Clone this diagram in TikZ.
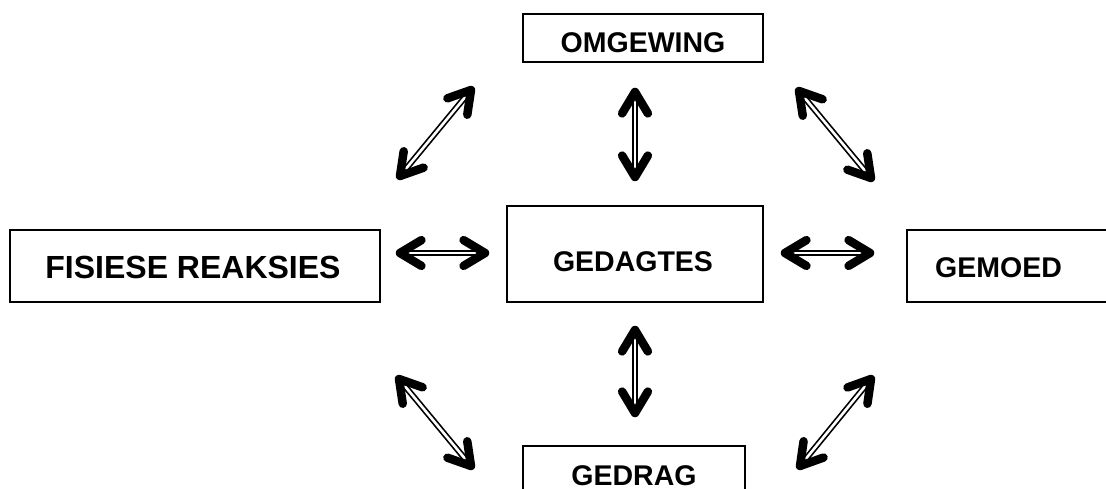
\documentclass[tikz,border=0pt]{standalone}
\usepackage{fontspec}
\setmainfont{Liberation Sans}
\usetikzlibrary{calc}
\tikzset{
  box/.style={draw, line width=2pt, inner sep=0pt, outer sep=0pt, anchor=north west},
  lbl/.style={inner sep=0pt, font=\bfseries\fontsize{28.5}{30}\selectfont},
  biglbl/.style={inner sep=0pt, font=\bfseries\fontsize{32}{34}\selectfont},
  shaft/.style={draw, line width=1.7pt, double=white, double distance=2.6pt},
  arrhead/.style={draw, line width=8.5pt, line cap=round, line join=round}
}
\newcommand{\dblarr}[2]{%
  \draw[shaft] (#1) -- (#2);
  \draw[arrhead] ($(#1)!25pt!31:(#2)$) -- (#1) -- ($(#1)!25pt!-31:(#2)$);
  \draw[arrhead] ($(#2)!25pt!31:(#1)$) -- (#2) -- ($(#2)!25pt!-31:(#1)$);
}
\begin{document}
\begin{tikzpicture}[x=1pt,y=-1pt]
\useasboundingbox (0,0) rectangle (1106,489);
\clip (0,0) rectangle (1106,489);
\fill[white] (0,0) rectangle (1106,489);
% boxes
\node[box, minimum width=370pt, minimum height=72pt] (fis) at (10,230) {};
\node[box, minimum width=256pt, minimum height=96pt] (ged) at (507,206) {};
\node[box, minimum width=223pt, minimum height=72pt] (gem) at (907,230) {};
\node[box, minimum width=240pt, minimum height=48pt] (omg) at (523,14) {};
\node[box, minimum width=222pt, minimum height=70pt] (gdr) at (523,446) {};
% labels
\node[biglbl, anchor=base] (tfis) at (193,278) {FISIESE REAKSIES};
\node[lbl, anchor=base] (tged) at (633,272) {GEDAGTES};
\node[lbl, anchor=base west] (tgem) at (935,277) {GEMOED};
\node[lbl, anchor=base] (tomg) at (643,53) {OMGEWING};
\node[lbl, anchor=base] (tgdr) at (634,485) {GEDRAG};
% arrow end points
\coordinate (l1) at (400,253); \coordinate (l2) at (485,253);
\coordinate (r1) at (785,253); \coordinate (r2) at (870,253);
\coordinate (u1) at (635,92);  \coordinate (u2) at (635,177);
\coordinate (d1) at (635,330); \coordinate (d2) at (635,413);
\coordinate (tl1) at (471,90); \coordinate (tl2) at (400,176);
\coordinate (tr1) at (799,91); \coordinate (tr2) at (871,178);
\coordinate (bl1) at (399,379); \coordinate (bl2) at (471,466);
\coordinate (br1) at (871,379); \coordinate (br2) at (800,466);
\dblarr{l1}{l2}
\dblarr{r1}{r2}
\dblarr{u1}{u2}
\dblarr{d1}{d2}
\dblarr{tl1}{tl2}
\dblarr{tr1}{tr2}
\dblarr{bl1}{bl2}
\dblarr{br1}{br2}
\end{tikzpicture}
\end{document}
